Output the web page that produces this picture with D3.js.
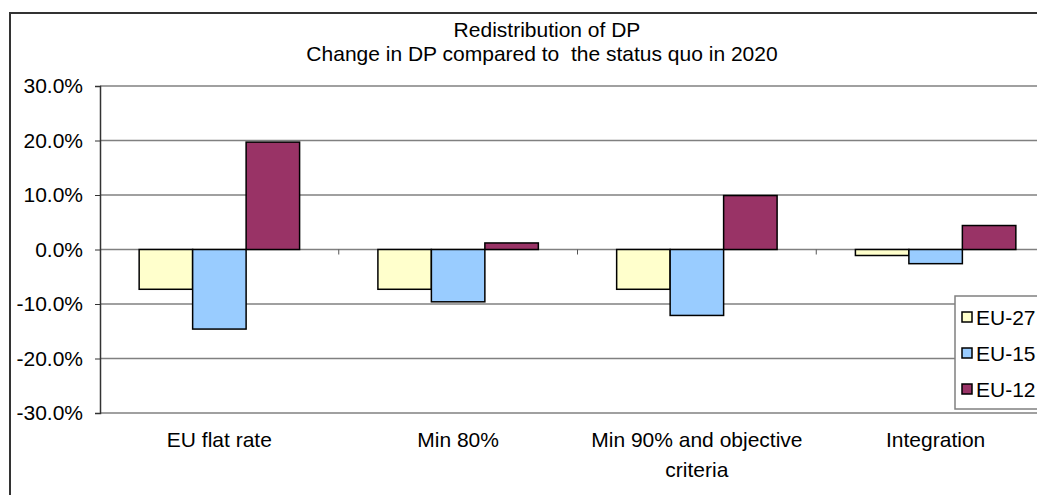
<!DOCTYPE html>
<html lang="en">
<head>
<meta charset="UTF-8">
<title>Redistribution of DP</title>
<script src="https://d3js.org/d3.v7.min.js"></script>
<style>
  body { margin: 0; background: #fff; overflow: hidden; }
  svg { display: block; font-family: "Liberation Sans", Arial, sans-serif; }
</style>
</head>
<body>
<div id="chart"></div>
<script>
// data
const categories = ["EU flat rate", "Min 80%", "Min 90% and objective criteria", "Integration"];
const series = ["EU-27", "EU-15", "EU-12"];
const eu27 = [-0.073, -0.073, -0.073, -0.011];
const eu15 = [-0.146, -0.096, -0.121, -0.026];
const eu12 = [0.197, 0.012, 0.099, 0.044];
const yTicks = [-0.3, -0.2, -0.1, 0, 0.1, 0.2, 0.3];
const colors = ["#FFFFCC", "#99CCFF", "#993366"];

const width = 1037, height = 495;
const plot = { left: 100, right: 1055, top: 86, bottom: 413 };
const fs = 21;

const svg = d3.select("#chart").append("svg")
    .attr("width", width)
    .attr("height", height);

// outer chart border (cut off on right / bottom like the source)
svg.append("rect")
    .attr("x", 10).attr("y", 13)
    .attr("width", 1100).attr("height", 600)
    .attr("fill", "#fff")
    .attr("stroke", "#333").attr("stroke-width", 2);

const y = d3.scaleLinear().domain([-0.3, 0.3]).range([plot.bottom, plot.top]);
const x0 = d3.scaleBand().domain(categories).range([plot.left, plot.right]).padding(0);
const gap = x0.bandwidth() * 0.164;
const x1 = d3.scaleBand().domain(series).range([gap, x0.bandwidth() - gap]).padding(0);

// gridlines
svg.append("g")
    .selectAll("line")
    .data(yTicks)
    .join("line")
    .attr("x1", plot.left).attr("x2", plot.right)
    .attr("y1", d => y(d)).attr("y2", d => y(d))
    .attr("stroke", "#808080").attr("stroke-width", 1.5);

// y axis
const pct = d3.format(".1%");
const yAxis = svg.append("g")
    .attr("transform", `translate(${plot.left},0)`)
    .call(d3.axisLeft(y).tickValues(yTicks)
        .tickFormat(d => pct(d).replace("\u2212", "-"))
        .tickSize(5).tickPadding(12));
yAxis.select(".domain").attr("stroke", "#333").attr("stroke-width", 1.5);
yAxis.selectAll(".tick line").attr("stroke", "#333");
yAxis.selectAll("text").attr("font-size", fs).attr("fill", "#000")
    .attr("font-family", "Liberation Sans, Arial, sans-serif");

// bars
const rows = categories.map((c, i) => ({ cat: c, vals: [eu27[i], eu15[i], eu12[i]] }));
svg.append("g")
    .selectAll("g")
    .data(rows)
    .join("g")
    .attr("transform", d => `translate(${x0(d.cat)},0)`)
    .selectAll("rect")
    .data(d => d.vals.map((v, j) => ({ s: series[j], v, j })))
    .join("rect")
    .attr("x", d => x1(d.s))
    .attr("width", x1.bandwidth())
    .attr("y", d => y(Math.max(0, d.v)))
    .attr("height", d => Math.abs(y(d.v) - y(0)))
    .attr("fill", d => colors[d.j])
    .attr("stroke", "#000").attr("stroke-width", 1.5);

// category ticks on the zero line
svg.append("g")
    .selectAll("line")
    .data(categories.slice(1))
    .join("line")
    .attr("x1", d => x0(d)).attr("x2", d => x0(d))
    .attr("y1", y(0)).attr("y2", y(0) + 5)
    .attr("stroke", "#555");

// category labels (wrapped)
const labelLines = ["EU flat rate", "Min 80%", "Min 90% and objective|criteria", "Integration"];
svg.append("g")
    .selectAll("text")
    .data(categories)
    .join("text")
    .attr("x", d => x0(d) + x0.bandwidth() / 2)
    .attr("y", 447)
    .attr("text-anchor", "middle")
    .attr("font-size", fs)
    .each(function(d, i) {
        labelLines[i].split("|").forEach((p, k) => {
            d3.select(this).append("tspan")
                .attr("x", x0(d) + x0.bandwidth() / 2)
                .attr("dy", k === 0 ? 0 : 30)
                .text(p);
        });
    });

// title
svg.append("text")
    .attr("x", 547).attr("y", 37)
    .attr("text-anchor", "middle").attr("font-size", fs)
    .text("Redistribution of DP");
svg.append("text")
    .attr("x", 542).attr("y", 61)
    .attr("text-anchor", "middle").attr("font-size", fs)
    .style("white-space", "pre")
    .text("Change in DP compared to  the status quo in 2020");

// legend (runs off the right edge)
const legend = svg.append("g").attr("transform", "translate(955,296)");
legend.append("rect")
    .attr("width", 120).attr("height", 113)
    .attr("fill", "#fff").attr("stroke", "#808080").attr("stroke-width", 1.5);
series.forEach((s, i) => {
    const gy = 21 + i * 36;
    legend.append("rect")
        .attr("x", 7).attr("y", gy - 5)
        .attr("width", 10).attr("height", 10)
        .attr("fill", colors[i]).attr("stroke", "#000").attr("stroke-width", 1.5);
    legend.append("text")
        .attr("x", 21).attr("y", gy + 8)
        .attr("font-size", fs)
        .text(s);
});
</script>
</body>
</html>
